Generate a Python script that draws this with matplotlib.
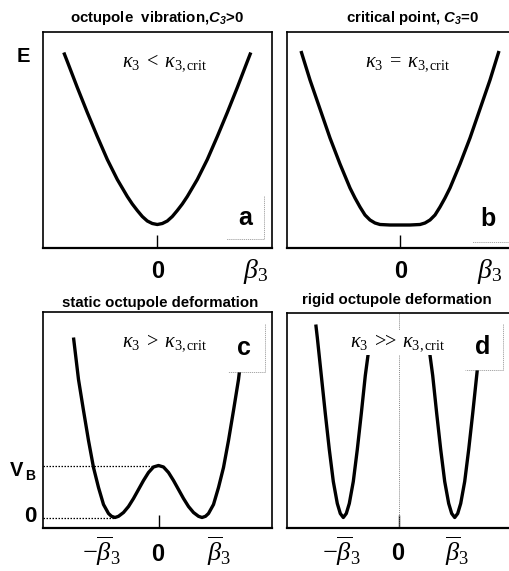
import matplotlib
matplotlib.use("Agg")
import matplotlib.pyplot as plt
from matplotlib.patches import Rectangle

plt.rcParams.update({
    "font.family": "Liberation Sans",
    "mathtext.fontset": "custom",
    "mathtext.rm": "Liberation Serif",
    "mathtext.it": "Liberation Serif:italic",
    "mathtext.bf": "Liberation Sans:bold:italic",
})

# ---------------- potential curves (beta_3 in arbitrary units, E in arbitrary units)
# (a) octupole vibration, C3 > 0
beta_a = [-0.935, -0.9, -0.8, -0.7, -0.6, -0.5, -0.4, -0.35, -0.3, -0.25, -0.2, -0.15, -0.1, -0.05,
          0.0, 0.05, 0.1, 0.15, 0.2, 0.25, 0.3, 0.35, 0.4, 0.5, 0.6, 0.7, 0.8, 0.9, 0.935]
E_a = [1.95, 1.86, 1.60, 1.35, 1.11, 0.88, 0.68, 0.595, 0.51, 0.435, 0.37, 0.31, 0.265, 0.24,
       0.23, 0.24, 0.265, 0.31, 0.37, 0.435, 0.51, 0.595, 0.68, 0.88, 1.11, 1.35, 1.60, 1.86, 1.95]

# (b) critical point, C3 = 0
beta_b = [-0.99, -0.9, -0.8, -0.7, -0.6, -0.5, -0.45, -0.4, -0.35, -0.3, -0.25, -0.2, -0.1,
          0.0, 0.1, 0.2, 0.25, 0.3, 0.35, 0.4, 0.45, 0.5, 0.6, 0.7, 0.8, 0.9, 0.99]
E_b = [1.97, 1.68, 1.39, 1.10, 0.84, 0.60, 0.50, 0.41, 0.33, 0.28, 0.25, 0.235, 0.23,
       0.23, 0.23, 0.235, 0.25, 0.28, 0.33, 0.41, 0.50, 0.60, 0.84, 1.10, 1.39, 1.68, 1.97]

# (c) static octupole deformation: double well with barrier V_B
beta_c = [-0.85, -0.8, -0.75, -0.7, -0.65, -0.6, -0.55, -0.5, -0.47, -0.435, -0.4, -0.35, -0.3,
          -0.25, -0.2, -0.15, -0.1, -0.05, 0.0, 0.05, 0.1, 0.15, 0.2, 0.25, 0.3, 0.35, 0.4,
          0.435, 0.47, 0.5, 0.55, 0.6, 0.65, 0.7, 0.75, 0.8, 0.85]
E_c = [1.80, 1.38, 1.07, 0.77, 0.50, 0.30, 0.13, 0.04, 0.012, 0.0, 0.012, 0.05, 0.11,
       0.19, 0.28, 0.37, 0.45, 0.505, 0.52, 0.505, 0.45, 0.37, 0.28, 0.19, 0.11, 0.05, 0.012,
       0.0, 0.012, 0.04, 0.13, 0.30, 0.50, 0.77, 1.07, 1.38, 1.80]
V_B = 0.52
beta_bar_c = 0.435

# (d) rigid octupole deformation: two separated wells
beta_d_left = [-0.832, -0.817, -0.777, -0.737, -0.697, -0.657, -0.617, -0.587, -0.557,
               -0.527, -0.497, -0.457, -0.417, -0.377, -0.337, -0.297]
E_d_left = [1.93, 1.80, 1.42, 1.04, 0.68, 0.36, 0.14, 0.04, 0.0,
            0.04, 0.14, 0.36, 0.68, 1.04, 1.42, 1.72]
beta_d_right = [0.297, 0.337, 0.377, 0.417, 0.457, 0.497, 0.527, 0.557,
                0.587, 0.617, 0.657, 0.697, 0.737, 0.777, 0.817, 0.832]
E_d_right = [1.72, 1.42, 1.04, 0.68, 0.36, 0.14, 0.04, 0.0,
             0.04, 0.14, 0.36, 0.68, 1.04, 1.42, 1.80, 1.93]

titles = [r"octupole  vibration,$\mathbf{C_3}$>0", r"critical point, $\mathbf{C_3}$=0",
          "static octupole deformation", "rigid octupole deformation"]
kappa_labels = [r"$\kappa_3\;<\;\kappa_{3,\mathrm{crit}}$", r"$\kappa_3\;=\;\kappa_{3,\mathrm{crit}}$",
                r"$\kappa_3\;>\;\kappa_{3,\mathrm{crit}}$",
                r"$\kappa_3\;\mathrm{>\!\!\!>}\;\kappa_{3,\mathrm{crit}}$"]
panel_letters = ["a", "b", "c", "d"]

# ---------------- figure layout in pixels
W, H = 509, 571
fig = plt.figure(figsize=(W / 100, H / 100), dpi=100)


def fx(px):
    return px / W


def fy(py):
    return 1 - py / H


def make_axes(x0, x1, y0, y1, xc, yz):
    # axes spanning pixels x0..x1, y0..y1; beta=0 at pixel xc, E=0 at pixel yz (100 px per unit)
    ax = fig.add_axes([fx(x0), fy(y1), (x1 - x0) / W, (y1 - y0) / H])
    ax.set_xlim((x0 - xc) / 100, (x1 - xc) / 100)
    ax.set_ylim((yz - y1) / 100, (yz - y0) / 100)
    ax.set_xticks([0])
    ax.set_xticklabels([])
    ax.set_yticks([])
    ax.tick_params(axis="x", direction="in", length=9.5, width=1.0, color="black")
    for s in ("left", "right", "top"):
        ax.spines[s].set_linewidth(1.2)
    ax.spines["bottom"].set_linewidth(1.6)
    ax.patch.set_alpha(0)
    return ax


ax_a = make_axes(42.7, 272, 31.7, 247.5, 157.3, 247.5)
ax_b = make_axes(286.7, 514, 31.7, 248, 400, 248)
ax_c = make_axes(42.7, 272, 312, 527.5, 158.5, 517.5)
ax_d = make_axes(286.7, 514, 313, 528, 399, 517.5)

lw = 2.4
ax_a.plot(beta_a, E_a, color="black", lw=lw, solid_capstyle="butt")
ax_b.plot(beta_b, E_b, color="black", lw=lw, solid_capstyle="butt")
ax_c.plot(beta_c, E_c, color="black", lw=lw, solid_capstyle="butt")
ax_d.plot(beta_d_left, E_d_left, color="black", lw=lw, solid_capstyle="butt")
ax_d.plot(beta_d_right, E_d_right, color="black", lw=lw, solid_capstyle="butt")

# barrier height and well bottom reference lines in (c)
xl = ax_c.get_xlim()[0]
ax_c.plot([xl, 0], [V_B, V_B], color="black", lw=0.9, ls=(0, (1.2, 1.2)))
ax_c.plot([xl, -beta_bar_c], [0, 0], color="black", lw=0.9, ls=(0, (1.2, 1.2)))

# symmetry line in (d)
ax_d.plot([0, 0], list(ax_d.get_ylim()), color="#888888", lw=0.7, ls=(0, (1, 1)))

# ---------------- panel titles
title_pos = [(157, 22), (413, 22), (160, 307), (397, 304)]
for t, (px, py) in zip(titles, title_pos):
    fig.text(fx(px), fy(py), t, ha="center", va="baseline", fontsize=10.8, fontweight="bold")

# ---------------- kappa labels
kappa_pos = [(122, 66), (365, 66), (122, 346), (350, 346)]
for i, (t, (px, py)) in enumerate(zip(kappa_labels, kappa_pos)):
    kw = {}
    if i == 3:
        kw["bbox"] = dict(facecolor="white", edgecolor="none", pad=1.5)
    fig.text(fx(px), fy(py), t, ha="left", va="baseline", fontsize=14.5, zorder=6, **kw)

# ---------------- panel letter boxes
boxes = [(226, 190, 264, 239), (472, 190, 509, 242), (228, 318, 265, 372), (465, 318, 503, 370)]
letter_pos = [(245, 225), (488, 225.5), (244, 355), (483, 354)]
for (x0, y0, x1, y1), (lx, ly), s in zip(boxes, letter_pos, panel_letters):
    fig.patches.append(Rectangle((fx(x0), fy(y1)), (x1 - x0) / W, (y1 - y0) / H,
                                 transform=fig.transFigure, facecolor="white",
                                 edgecolor="none", zorder=5))
    fig.add_artist(plt.Line2D([fx(x1), fx(x1), fx(x0)], [fy(y0 + 6), fy(y1), fy(y1)],
                              transform=fig.transFigure, color="#9a9a9a", lw=0.6,
                              ls=(0, (1.5, 1)), zorder=5.5))
    fig.text(fx(lx), fy(ly), s, ha="center", va="baseline", fontsize=18,
             fontweight="bold", zorder=7)

# ---------------- axis labels
fig.text(fx(23), fy(62), "E", ha="center", va="baseline", fontsize=14.5, fontweight="bold")
fig.text(fx(17), fy(476), "V", ha="center", va="baseline", fontsize=14.5, fontweight="bold")
fig.text(fx(30), fy(480), "B", ha="center", va="baseline", fontsize=10, fontweight="bold")
fig.text(fx(30), fy(522), "0", ha="center", va="baseline", fontsize=16, fontweight="bold")

# beta-axis labels
fig.text(fx(158), fy(278), "0", ha="center", va="baseline", fontsize=17, fontweight="bold")
fig.text(fx(401), fy(278), "0", ha="center", va="baseline", fontsize=17, fontweight="bold")
fig.text(fx(243), fy(278), r"$\beta_3$", ha="left", va="baseline", fontsize=20)
fig.text(fx(477), fy(278), r"$\beta_3$", ha="left", va="baseline", fontsize=20)

fig.text(fx(158), fy(561), "0", ha="center", va="baseline", fontsize=17, fontweight="bold")
fig.text(fx(398), fy(560), "0", ha="center", va="baseline", fontsize=17, fontweight="bold")
fig.text(fx(82), fy(561), r"$-\overline{\beta}_3$", ha="left", va="baseline", fontsize=19)
fig.text(fx(207), fy(561), r"$\overline{\beta}_3$", ha="left", va="baseline", fontsize=19)
fig.text(fx(322), fy(561), r"$-\overline{\beta}_3$", ha="left", va="baseline", fontsize=19)
fig.text(fx(445), fy(561), r"$\overline{\beta}_3$", ha="left", va="baseline", fontsize=19)

fig.savefig("out.png", dpi=100)
